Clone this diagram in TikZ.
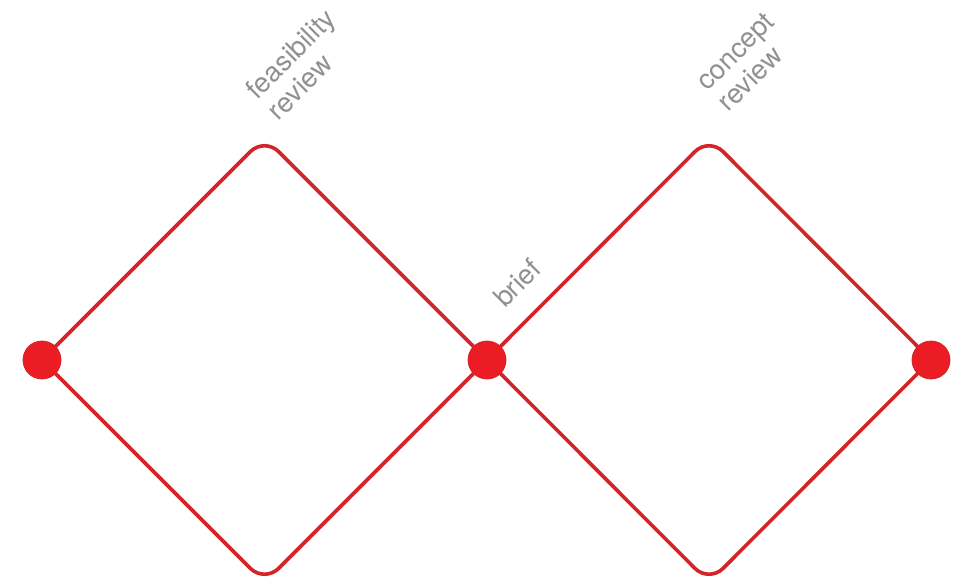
\documentclass[tikz,border=0pt]{standalone}
\usepackage{fontspec}
\setmainfont{TeX Gyre Heros}
\definecolor{linered}{RGB}{212,36,40}
\definecolor{dotred}{RGB}{236,28,36}
\definecolor{labelgrey}{RGB}{145,145,145}
\begin{document}
\begin{tikzpicture}[x=1pt,y=1pt,
  edge/.style={draw=linered,line width=3.6pt,rounded corners=20pt},
  dot/.style={circle,fill=dotred,draw=linered,line width=0.8pt,minimum size=38pt,inner sep=0pt},
  lbl/.style={text=labelgrey,font=\fontsize{27.5}{30}\selectfont,align=left,rotate=45,inner sep=0pt}]
\useasboundingbox (0,0) rectangle (969,582);
\coordinate (T1) at (264.5,444.5);
\coordinate (B1) at (264.5,-0.5);
\coordinate (T2) at (709,444.5);
\coordinate (B2) at (709,-0.5);
\coordinate (Lc) at (42,222);
\coordinate (Mc) at (487,222);
\coordinate (Rc) at (931,222);
\draw[edge] (Lc) -- (T1) -- (Mc);
\draw[edge] (Lc) -- (B1) -- (Mc);
\draw[edge] (Mc) -- (T2) -- (Rc);
\draw[edge] (Mc) -- (B2) -- (Rc);
\node[dot] (L) at (Lc) {};
\node[dot] (M) at (Mc) {};
\node[dot] (R) at (Rc) {};
\node[lbl] (fr) at (301,518) {feasibility\\review};
\node[lbl] (cr) at (746,520) {concept\\review};
\node[lbl] (br) at (517,299) {brief};
\end{tikzpicture}
\end{document}
